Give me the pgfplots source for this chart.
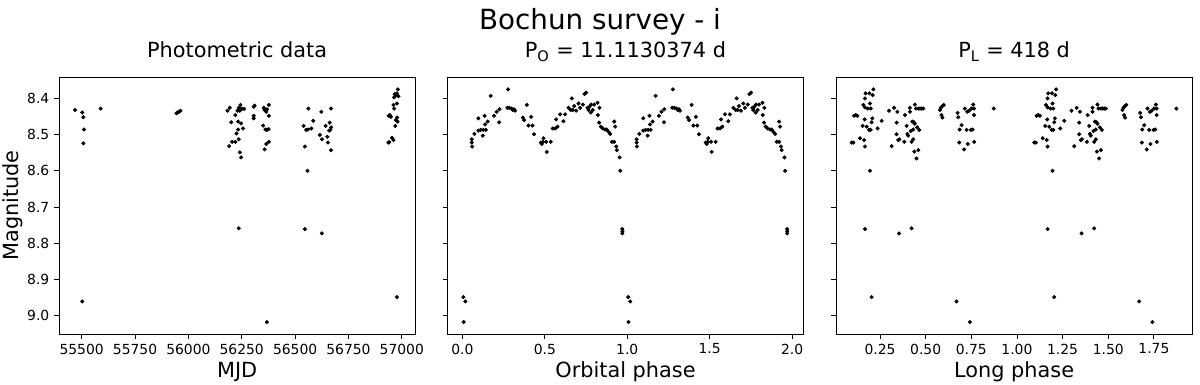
\documentclass[border=0pt]{standalone}
\usepackage{fontspec}
\setmainfont{DejaVu Sans}
\usepackage{pgfplots}
\pgfplotsset{compat=1.18}

% 1 px of the reference = 0.72pt
\pgfplotsset{
  panel/.style={
    scale only axis, width=256.5pt, height=185pt,
    anchor=south west,
    y dir=reverse, ymin=8.341, ymax=9.051,
    ytick={8.4,8.5,8.6,8.7,8.8,8.9,9.0},
    tick align=outside, xtick pos=left, ytick pos=left,
    major tick length=3.5pt,
    tick style={black, line width=0.6pt},
    axis line style={line width=0.6pt},
    tick label style={font=\fontsize{10}{12}\selectfont},
    /pgf/number format/assume math mode=true,
    y tick label style={/pgf/number format/.cd, fixed, fixed zerofill, precision=1, /tikz/.cd},
    label style={font=\fontsize{15}{18}\selectfont},
    xlabel style={at={(axis description cs:0.5,-0.169)}, anchor=base},
    title style={font=\fontsize{15}{18}\selectfont, at={(axis description cs:0.5,1.043)}, anchor=base},
  },
  dots/.style={only marks, mark=*, mark size=1.25pt, black},
}

\begin{document}
\begin{tikzpicture}
\useasboundingbox (0,0) rectangle (864pt,276.48pt);

\node[font=\fontsize{20}{24}\selectfont, anchor=base] at (432pt,254.9pt) {Bochun survey - i};

% ---- photometric data ----
\begin{axis}[panel, at={(42.5pt,36pt)},
  xmin=55394, xmax=57063,
  xtick={55500,55750,56000,56250,56500,56750,57000},
  scaled x ticks=false,
  x tick label style={/pgf/number format/.cd, fixed, set thousands separator={}, /tikz/.cd},
  title={Photometric data}, xlabel={MJD}, ylabel={Magnitude},
  ylabel style={at={(axis description cs:-0.115,0.5)}, rotate=0, anchor=base},
]
\addplot[dots] coordinates {
(55469,8.432)(55503,8.439)(55508,8.452)(55511,8.486)(55508,8.524)(55503,8.961)(55589,8.428)
(55944,8.441)(55950,8.439)(55956,8.437)(55963,8.434)
(56183,8.434)(56194,8.426)(56201,8.466)(56191,8.532)(56205,8.520)(56220,8.520)(56220,8.446)
(56225,8.497)(56233,8.486)(56236,8.513)(56233,8.464)(56241,8.549)(56247,8.563)(56236,8.759)
(56236,8.426)(56244,8.418)(56241,8.434)(56247,8.469)(56251,8.429)(56256,8.483)(56261,8.429)(56230,8.434)
(56306,8.423)(56310,8.420)(56306,8.448)(56306,8.455)
(56353,8.426)(56357,8.432)(56365,8.437)(56368,8.430)(56377,8.418)(56377,8.448)(56350,8.475)
(56361,8.486)(56368,8.487)(56376,8.485)(56377,8.520)(56365,8.526)(56357,8.541)(56368,9.018)
(56540,8.476)(56546,8.533)(56552,8.487)(56560,8.486)(56562,8.428)(56558,8.600)(56546,8.761)
(56576,8.483)(56585,8.462)
(56623,8.437)(56616,8.501)(56626,8.513)(56625,8.773)(56643,8.476)(56651,8.506)(56654,8.522)
(56659,8.489)(56662,8.467)(56668,8.428)(56669,8.480)(56668,8.543)(56665,8.487)
(56937,8.522)(56941,8.521)(56938,8.448)(56944,8.446)(56949,8.451)(56954,8.509)(56961,8.515)
(56961,8.418)(56964,8.397)(56964,8.428)(56966,8.388)(56972,8.391)(56969,8.476)(56972,8.460)
(56977,8.414)(56977,8.386)(56981,8.375)(56984,8.394)(56978,8.453)(56980,8.464)(56977,8.949)
};
\end{axis}

% ---- orbital phase ----
\begin{axis}[panel, at={(322.1pt,36pt)},
  xmin=-0.091, xmax=2.070,
  xtick={0,0.5,1,1.5,2},
  x tick label style={/pgf/number format/.cd, fixed, fixed zerofill, precision=1, /tikz/.cd},
  yticklabels={},
  title={P\textsubscript{O} = 11.1130374 d}, xlabel={Orbital phase},
]
\addplot[dots] coordinates {
(0.006,8.949)(0.018,8.961)(0.008,9.018)
(0.057,8.522)(0.057,8.513)(0.059,8.533)(0.073,8.498)(0.097,8.455)(0.097,8.489)(0.111,8.487)
(0.124,8.503)(0.127,8.487)(0.135,8.448)(0.142,8.487)(0.138,8.472)(0.154,8.464)(0.172,8.393)
(0.192,8.448)(0.208,8.437)(0.223,8.466)(0.225,8.430)(0.277,8.375)(0.273,8.426)(0.285,8.426)
(0.299,8.428)(0.314,8.430)(0.320,8.434)(0.306,8.432)(0.367,8.453)(0.375,8.460)(0.391,8.418)
(0.401,8.475)(0.417,8.451)(0.425,8.475)(0.435,8.499)(0.476,8.522)(0.482,8.526)(0.492,8.510)
(0.488,8.520)(0.508,8.520)(0.512,8.548)(0.536,8.520)(0.548,8.483)(0.563,8.483)(0.569,8.458)
(0.577,8.478)(0.593,8.444)(0.613,8.463)(0.623,8.444)(0.644,8.426)(0.664,8.400)(0.658,8.432)
(0.670,8.432)(0.678,8.421)(0.690,8.434)(0.704,8.414)(0.714,8.426)(0.731,8.417)(0.741,8.388)
(0.751,8.384)(0.759,8.426)(0.765,8.432)(0.771,8.423)(0.781,8.417)(0.779,8.439)(0.791,8.432)
(0.799,8.417)(0.820,8.412)(0.832,8.426)(0.822,8.446)(0.830,8.467)(0.840,8.478)(0.852,8.483)
(0.866,8.486)(0.876,8.486)(0.886,8.492)(0.897,8.498)(0.907,8.520)(0.921,8.464)(0.927,8.478)
(0.921,8.520)(0.933,8.533)(0.937,8.543)(0.954,8.563)(0.958,8.600)(0.970,8.761)(0.970,8.773)(0.971,8.767)
(1.006,8.949)(1.018,8.961)(1.008,9.018)
(1.057,8.522)(1.057,8.513)(1.059,8.533)(1.073,8.498)(1.097,8.455)(1.097,8.489)(1.111,8.487)
(1.124,8.503)(1.127,8.487)(1.135,8.448)(1.142,8.487)(1.138,8.472)(1.154,8.464)(1.172,8.393)
(1.192,8.448)(1.208,8.437)(1.223,8.466)(1.225,8.430)(1.277,8.375)(1.273,8.426)(1.285,8.426)
(1.299,8.428)(1.314,8.430)(1.320,8.434)(1.306,8.432)(1.367,8.453)(1.375,8.460)(1.391,8.418)
(1.401,8.475)(1.417,8.451)(1.425,8.475)(1.435,8.499)(1.476,8.522)(1.482,8.526)(1.492,8.510)
(1.488,8.520)(1.508,8.520)(1.512,8.548)(1.536,8.520)(1.548,8.483)(1.563,8.483)(1.569,8.458)
(1.577,8.478)(1.593,8.444)(1.613,8.463)(1.623,8.444)(1.644,8.426)(1.664,8.400)(1.658,8.432)
(1.670,8.432)(1.678,8.421)(1.690,8.434)(1.704,8.414)(1.714,8.426)(1.731,8.417)(1.741,8.388)
(1.751,8.384)(1.759,8.426)(1.765,8.432)(1.771,8.423)(1.781,8.417)(1.779,8.439)(1.791,8.432)
(1.799,8.417)(1.820,8.412)(1.832,8.426)(1.822,8.446)(1.830,8.467)(1.840,8.478)(1.852,8.483)
(1.866,8.486)(1.876,8.486)(1.886,8.492)(1.897,8.498)(1.907,8.520)(1.921,8.464)(1.927,8.478)
(1.921,8.520)(1.933,8.533)(1.937,8.543)(1.954,8.563)(1.958,8.600)(1.970,8.761)(1.970,8.773)(1.971,8.767)
};
\end{axis}

% ---- long phase ----
\begin{axis}[panel, at={(601.9pt,36pt)},
  xmin=0.009, xmax=1.960,
  xtick={0.25,0.5,0.75,1,1.25,1.5,1.75},
  x tick label style={/pgf/number format/.cd, fixed, fixed zerofill, precision=2, /tikz/.cd},
  yticklabels={},
  title={P\textsubscript{L} = 418 d}, xlabel={Long phase},
]
\addplot[dots] coordinates {
(0.095,8.522)(0.104,8.522)(0.108,8.448)(0.117,8.446)(0.126,8.448)(0.141,8.510)(0.155,8.476)
(0.163,8.515)(0.168,8.533)(0.166,8.458)(0.159,8.418)(0.168,8.425)(0.168,8.400)(0.171,8.386)
(0.177,8.478)(0.183,8.428)(0.190,8.487)(0.192,8.386)(0.195,8.414)(0.199,8.428)(0.199,8.487)
(0.204,8.466)(0.208,8.455)(0.210,8.391)(0.214,8.375)(0.195,8.600)(0.168,8.761)(0.204,8.949)
(0.237,8.483)(0.259,8.462)(0.299,8.434)(0.314,8.532)(0.327,8.426)(0.341,8.467)(0.345,8.437)
(0.341,8.499)(0.350,8.515)(0.356,8.513)(0.387,8.446)(0.383,8.520)(0.396,8.476)(0.400,8.498)
(0.404,8.503)(0.414,8.437)(0.414,8.426)(0.419,8.490)(0.423,8.520)(0.427,8.464)(0.432,8.486)
(0.432,8.513)(0.436,8.466)(0.438,8.547)(0.441,8.417)(0.441,8.470)(0.447,8.428)(0.450,8.566)
(0.454,8.480)(0.460,8.543)(0.460,8.428)(0.465,8.487)(0.469,8.428)(0.478,8.428)(0.487,8.428)
(0.423,8.759)(0.354,8.773)(0.578,8.432)(0.583,8.426)(0.592,8.421)(0.599,8.418)(0.587,8.446)
(0.592,8.453)(0.675,8.440)(0.679,8.452)(0.686,8.486)(0.684,8.522)(0.697,8.474)(0.711,8.541)
(0.715,8.428)(0.724,8.487)(0.728,8.437)(0.731,8.526)(0.738,8.434)(0.748,8.487)(0.751,8.428)
(0.757,8.486)(0.761,8.417)(0.765,8.428)(0.765,8.446)(0.766,8.520)(0.669,8.961)(0.742,9.018)(0.873,8.428)
(1.095,8.522)(1.104,8.522)(1.108,8.448)(1.117,8.446)(1.126,8.448)(1.141,8.510)(1.155,8.476)
(1.163,8.515)(1.168,8.533)(1.166,8.458)(1.159,8.418)(1.168,8.425)(1.168,8.400)(1.171,8.386)
(1.177,8.478)(1.183,8.428)(1.190,8.487)(1.192,8.386)(1.195,8.414)(1.199,8.428)(1.199,8.487)
(1.204,8.466)(1.208,8.455)(1.210,8.391)(1.214,8.375)(1.195,8.600)(1.168,8.761)(1.204,8.949)
(1.237,8.483)(1.259,8.462)(1.299,8.434)(1.314,8.532)(1.327,8.426)(1.341,8.467)(1.345,8.437)
(1.341,8.499)(1.350,8.515)(1.356,8.513)(1.387,8.446)(1.383,8.520)(1.396,8.476)(1.400,8.498)
(1.404,8.503)(1.414,8.437)(1.414,8.426)(1.419,8.490)(1.423,8.520)(1.427,8.464)(1.432,8.486)
(1.432,8.513)(1.436,8.466)(1.438,8.547)(1.441,8.417)(1.441,8.470)(1.447,8.428)(1.450,8.566)
(1.454,8.480)(1.460,8.543)(1.460,8.428)(1.465,8.487)(1.469,8.428)(1.478,8.428)(1.487,8.428)
(1.423,8.759)(1.354,8.773)(1.578,8.432)(1.583,8.426)(1.592,8.421)(1.599,8.418)(1.587,8.446)
(1.592,8.453)(1.675,8.440)(1.679,8.452)(1.686,8.486)(1.684,8.522)(1.697,8.474)(1.711,8.541)
(1.715,8.428)(1.724,8.487)(1.728,8.437)(1.731,8.526)(1.738,8.434)(1.748,8.487)(1.751,8.428)
(1.757,8.486)(1.761,8.417)(1.765,8.428)(1.765,8.446)(1.766,8.520)(1.669,8.961)(1.742,9.018)(1.873,8.428)
};
\end{axis}
\end{tikzpicture}
\end{document}
